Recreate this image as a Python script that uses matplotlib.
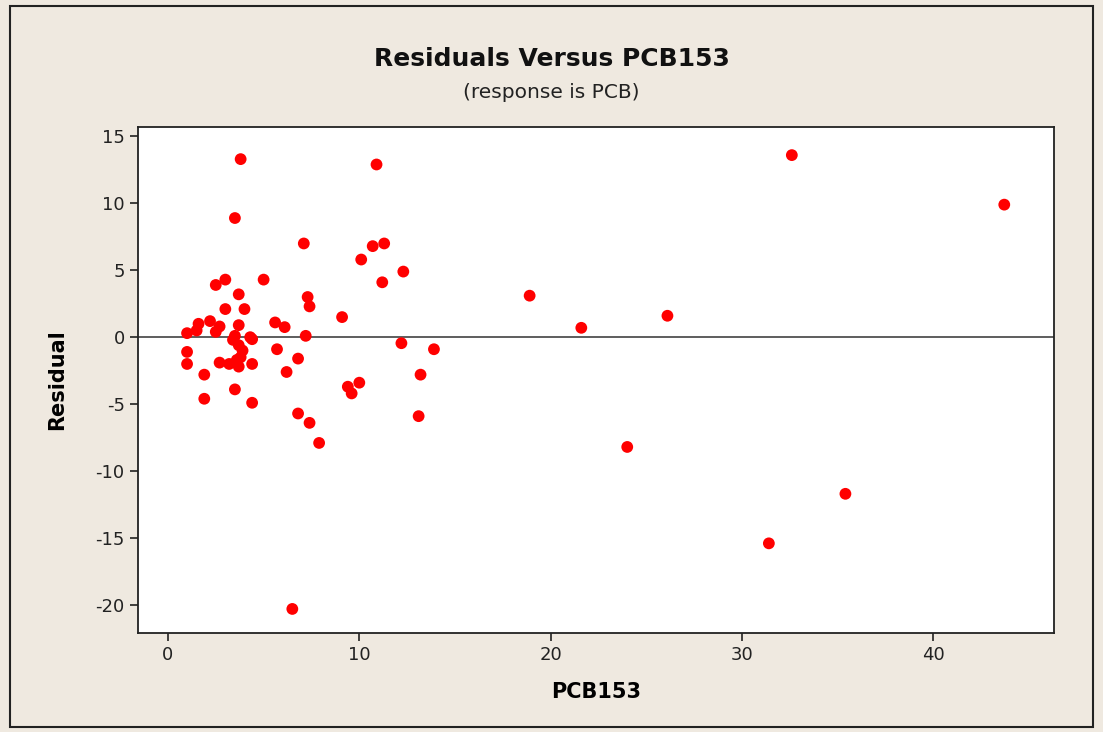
import matplotlib
matplotlib.use("Agg")
import matplotlib.pyplot as plt
from matplotlib.patches import Rectangle

plt.rcParams['axes.unicode_minus'] = False

# PCB153 values and residuals
pcb153 = [3.8, 3.5, 7.1, 10.9, 32.6, 43.7, 10.7, 11.3, 10.1, 12.3,
          11.2, 5.0, 7.3, 7.4, 9.1, 5.6, 6.1, 7.2, 5.7, 6.8,
          6.2, 4.4, 6.8, 7.4, 7.9, 9.4, 10.0, 9.6, 12.2, 13.9,
          13.2, 13.1, 6.5, 18.9, 21.6, 26.1, 24.0, 31.4, 35.4,
          2.5, 3.0, 3.7, 3.0, 4.0, 1.6, 2.2, 2.7, 3.7, 1.0,
          1.5, 2.5, 3.5, 4.3, 3.4, 3.7, 1.0, 1.0, 2.7, 3.2,
          3.8, 3.7, 4.4, 3.9, 1.9, 3.5, 1.9, 4.4, 3.6]
residual = [13.3, 8.9, 7.0, 12.9, 13.6, 9.9, 6.8, 7.0, 5.8, 4.9,
            4.1, 4.3, 3.0, 2.3, 1.5, 1.1, 0.75, 0.1, -0.9, -1.6,
            -2.6, -0.15, -5.7, -6.4, -7.9, -3.7, -3.4, -4.2, -0.45, -0.9,
            -2.8, -5.9, -20.3, 3.1, 0.7, 1.6, -8.2, -15.4, -11.7,
            3.9, 4.3, 3.2, 2.1, 2.1, 1.0, 1.2, 0.8, 0.9, 0.3,
            0.5, 0.4, 0.1, 0.0, -0.2, -0.6, -1.1, -2.0, -1.9, -2.0,
            -1.5, -2.2, -2.0, -1.0, -2.8, -3.9, -4.6, -4.9, -1.7]

xticks = [0, 10, 20, 30, 40]
yticks = [15, 10, 5, 0, -5, -10, -15, -20]

bg = '#efe9e0'
fig = plt.figure(figsize=(11.03, 7.32), dpi=100, facecolor=bg)
ax = fig.add_axes([0.125, 0.1352, 0.8306, 0.6913])
ax.set_facecolor('white')

ax.scatter(pcb153, residual, s=72, color='#ff0000', edgecolors='none', zorder=3)
ax.axhline(0, color='#505050', lw=1.3, zorder=2)

ax.set_xlim(-1.57, 46.3)
ax.set_ylim(-22.1, 15.7)
ax.set_xticks(xticks)
ax.set_yticks(yticks)
ax.tick_params(direction='out', length=6, width=1.2, labelsize=13, colors='#222222')
for s in ax.spines.values():
    s.set_linewidth(1.3)
    s.set_color('#222222')

ax.set_xlabel('PCB153', fontsize=15, fontweight='bold')
ax.set_ylabel('Residual', fontsize=15, fontweight='bold')
ax.xaxis.set_label_coords(0.5, -0.097)
ax.yaxis.set_label_coords(-0.0775, 0.5)

fig.text(0.5, 0.92, 'Residuals Versus PCB153', ha='center', va='center',
         fontsize=18, fontweight='bold', color='#111111')
fig.text(0.5, 0.873, '(response is PCB)', ha='center', va='center', fontsize=14.5, color='#222222')

# outer frame
fig.patches.append(Rectangle((0.009, 0.007), 0.982, 0.985, transform=fig.transFigure,
                             fill=False, edgecolor='#222222', lw=1.5))

fig.savefig('out.png', dpi=100, facecolor=bg)
